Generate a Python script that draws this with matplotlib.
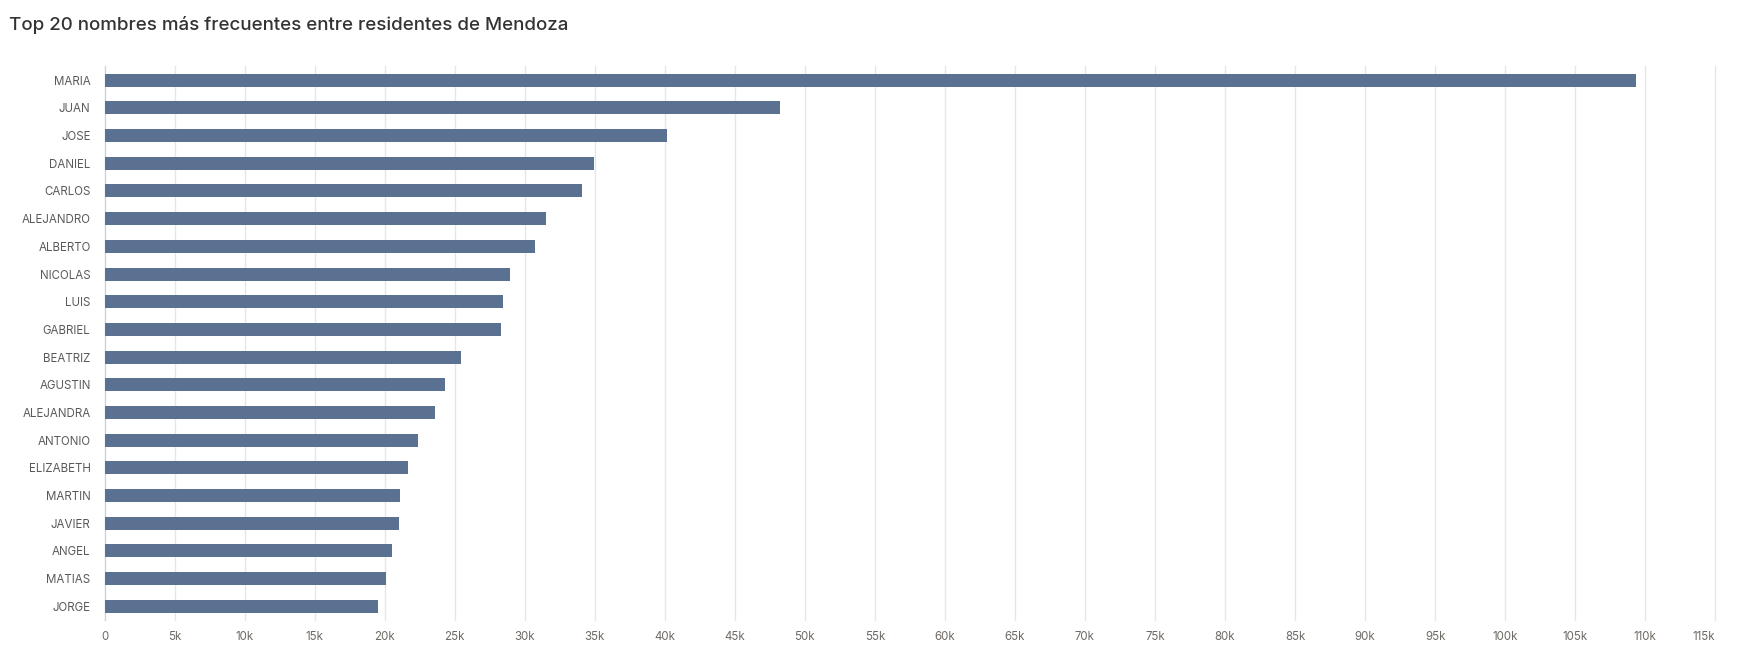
import matplotlib
matplotlib.use("Agg")
import matplotlib.pyplot as plt
import numpy as np

names = ["MARIA", "JUAN", "JOSE", "DANIEL", "CARLOS", "ALEJANDRO", "ALBERTO",
         "NICOLAS", "LUIS", "GABRIEL", "BEATRIZ", "AGUSTIN", "ALEJANDRA",
         "ANTONIO", "ELIZABETH", "MARTIN", "JAVIER", "ANGEL", "MATIAS", "JORGE"]
counts = [109360, 48260, 40190, 34980, 34120, 31550, 30760, 28980, 28480,
          28340, 25480, 24340, 23620, 22410, 21690, 21120, 21050, 20550,
          20120, 19550]
x_ticks = list(range(0, 115001, 5000))
x_labels = ["0"] + ["{}k".format(t // 1000) for t in x_ticks[1:]]

plt.rcParams['font.family'] = ['Inter', 'DejaVu Sans']

W, H = 1747, 648
fig = plt.figure(figsize=(W / 100, H / 100), dpi=100)
ax = fig.add_axes([104.5 / W, (H - 620.1) / H, (1715.3 - 104.5) / W, (620.1 - 66.4) / H])

y = np.arange(len(names))
ax.barh(y, counts, height=0.47, color="#5b7191", zorder=3)
ax.set_ylim(len(names) - 0.5, -0.5)
ax.set_xlim(0, 115000)

ax.set_yticks(y)
ax.set_yticklabels(names, fontsize=8.3, color="#5a5a5a")
ax.set_xticks(x_ticks)
ax.set_xticklabels(x_labels, fontsize=8.3, color="#6e6a66")
ax.get_xticklabels()[-1].set_ha("right")
ax.tick_params(axis="y", length=0, pad=10)
ax.tick_params(axis="x", length=0, pad=8)

for s in ["top", "right", "bottom"]:
    ax.spines[s].set_visible(False)
ax.spines["left"].set_color("#c8d3e3")
ax.spines["left"].set_linewidth(1)

for t in x_ticks[1:]:
    ax.axvline(t, color="#e6e6e6", linewidth=1, zorder=1, clip_on=False)

fig.text(9 / W, 1 - 30 / H, "Top 20 nombres más frecuentes entre residentes de Mendoza",
         fontsize=13.5, fontweight="medium", color="#333333", va="baseline", ha="left")

fig.savefig("out.png", dpi=100)
